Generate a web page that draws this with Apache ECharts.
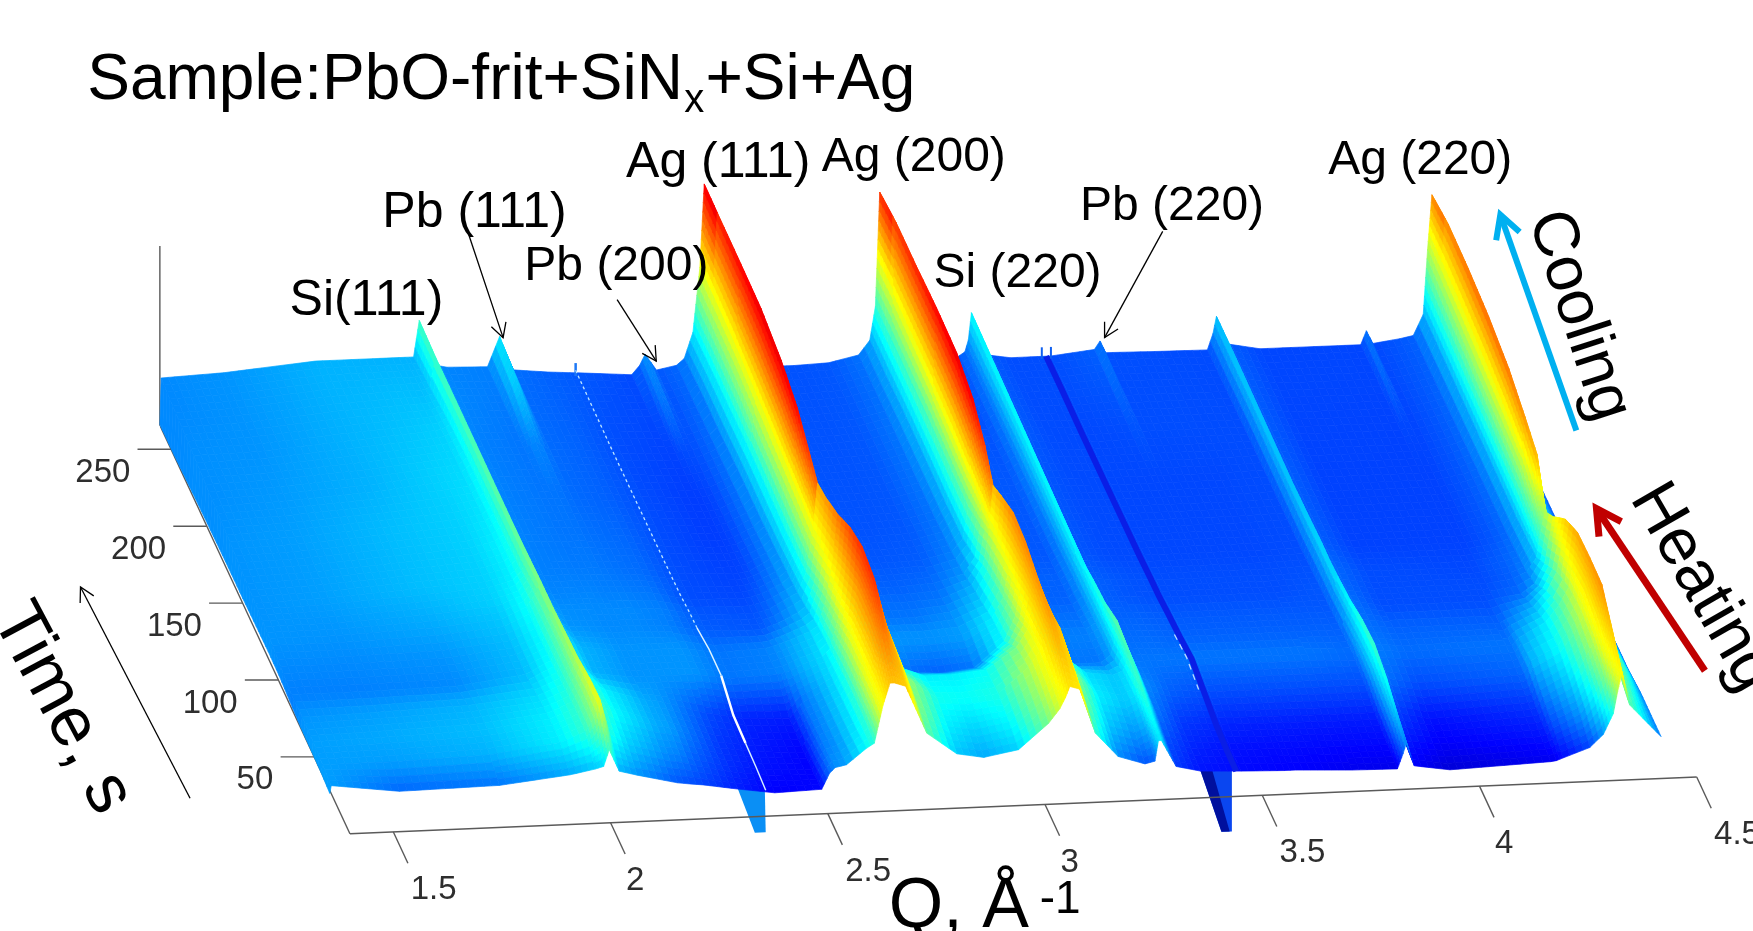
<!DOCTYPE html>
<html><head><meta charset="utf-8">
<style>html,body{margin:0;padding:0;background:#fff;overflow:hidden}#c{width:1753px;height:931px}</style>
<script src="https://cdn.jsdelivr.net/npm/echarts@6/dist/echarts.min.js"></script></head>
<body><div id="c"></div>
<script>
// ---------- data ----------
const qTicks = [1.5, 2, 2.5, 3, 3.5, 4, 4.5];
const timeTicks = [50, 100, 150, 200, 250];
const qGrid = [1.400,1.403,1.547,1.758,1.907,1.964,1.984,1.997,
 2.020,2.061,2.154,2.182,2.213,2.293,2.378,2.486,2.504,2.517,2.543,2.589,
 2.607,2.627,2.643,2.653,
 2.679,2.728,2.797,2.859,2.939,3.008,3.034,3.047,3.057,
 3.080,3.116,3.168,3.230,3.253,3.261,3.268,3.302,
 3.358,3.451,3.551,3.564,3.577,3.706,3.811,
 3.824,3.832,3.850,3.932,4.164,4.177,4.192,4.254,4.285,4.308,4.318,4.328,4.346,4.418];
const timeRows = [265,245,220,195,170,150,135,125,115,100,85,70,55,42,30];
const i265 = [.08,.26,.27,.30,.30,.30,.30,.44, .27,.255,.25,.365,.234,.22,.21,.196,.23,.273,.21,.225, .25,.35,.60,.92, .35,.22,.205,.205,.21,.235,.29,.42,.86, .30,.22,.21,.205,.23,.276,.38,.215, .2,.2,.218,.25,.204,.2,.198, .26,.326,.22,.194,.193,.246,.196,.21,.22,.30,.55,.76,.40,.2];
const i245 = [.09,.26,.27,.30,.31,.31,.32,.44, .27,.255,.245,.34,.23,.22,.205,.195,.21,.25,.205,.225, .26,.36,.61,.94, .35,.22,.205,.205,.21,.235,.29,.43,.90, .30,.22,.21,.205,.235,.28,.38,.215, .2,.2,.21,.24,.2,.2,.198, .26,.33,.22,.194,.193,.235,.195,.21,.22,.30,.55,.80,.40,.2];
const i220 = [.11,.265,.27,.30,.32,.33,.35,.45, .27,.25,.24,.26,.23,.22,.2,.19,.19,.2,.2,.23, .26,.37,.62,.97, .35,.22,.205,.205,.21,.24,.30,.44,.93, .31,.22,.21,.205,.24,.29,.38,.215, .2,.195,.2,.21,.2,.2,.2, .27,.33,.22,.192,.19,.2,.19,.21,.225,.30,.55,.82,.40,.2];
const i195 = [.13,.265,.275,.30,.33,.34,.37,.46, .27,.25,.24,.24,.23,.22,.2,.185,.185,.185,.195,.235, .27,.38,.62,1.0, .35,.22,.205,.205,.21,.24,.30,.45,.97, .32,.22,.21,.21,.245,.30,.38,.21, .2,.195,.195,.195,.195,.195,.2, .27,.33,.22,.19,.19,.19,.19,.21,.23,.30,.55,.83,.42,.2];
const i170 = [.15,.27,.28,.31,.33,.35,.38,.47, .27,.25,.24,.24,.235,.225,.2,.185,.185,.185,.195,.24, .27,.38,.62,1.0, .35,.22,.205,.205,.21,.24,.30,.45,1.0, .32,.22,.21,.21,.25,.30,.38,.21, .2,.195,.195,.195,.195,.195,.2, .27,.33,.22,.19,.19,.19,.19,.21,.23,.30,.55,.82,.42,.2];
const i150 = [.165,.27,.28,.31,.33,.36,.39,.48, .27,.25,.245,.245,.24,.23,.2,.19,.19,.19,.2,.25, .28,.38,.62,.97, .35,.22,.21,.21,.215,.25,.31,.46,.98, .34,.22,.21,.21,.25,.30,.38,.21, .2,.195,.195,.195,.195,.195,.2, .27,.34,.22,.19,.19,.19,.19,.21,.23,.30,.55,.78,.42,.2];
const i135 = [.18,.27,.28,.31,.33,.36,.40,.49, .28,.255,.255,.25,.25,.24,.2,.195,.195,.2,.215,.26, .29,.39,.62,.90, .35,.23,.22,.22,.23,.27,.35,.50,.90, .38,.24,.22,.22,.26,.31,.38,.22, .21,.2,.2,.2,.2,.2,.205, .28,.35,.23,.2,.195,.195,.2,.22,.24,.31,.50,.74,.42,.2];
const i125 = [.19,.27,.275,.3,.33,.37,.42,.5, .30,.265,.26,.26,.26,.25,.21,.205,.205,.21,.225,.28, .3,.4,.62,.85, .35,.24,.23,.23,.24,.3,.4,.55,.8, .4,.25,.22,.22,.26,.32,.38,.22, .21,.2,.2,.2,.2,.2,.21, .28,.35,.23,.2,.2,.2,.2,.22,.25,.32,.45,.55,.4,.2];
const i115 = [.2,.27,.27,.29,.32,.38,.44,.51, .32,.27,.26,.26,.26,.25,.215,.21,.21,.22,.24,.29, .32,.44,.66,.88, .42,.25,.24,.24,.26,.32,.43,.58,.85, .45,.26,.23,.23,.27,.32,.4,.22, .22,.21,.21,.21,.21,.21,.21, .28,.36,.24,.2,.2,.2,.21,.23,.28,.38,.5,.62,.42,.2];
const i100 = [.21,.26,.26,.27,.31,.37,.45,.52, .36,.3,.27,.27,.27,.27,.24,.25,.26,.27,.29,.33, .36,.5,.72,.95, .55,.28,.27,.27,.28,.36,.47,.62,.92, .5,.28,.25,.25,.28,.33,.42,.23, .23,.22,.22,.22,.22,.22,.22, .3,.38,.24,.22,.22,.22,.24,.3,.38,.48,.6,.76,.5,.2];
const i85 = [.21,.25,.25,.26,.31,.38,.46,.54, .38,.3,.27,.27,.27,.27,.24,.25,.26,.27,.3,.34, .38,.55,.8,1.05, .7,.3,.23,.22,.24,.38,.52,.68,.93, .55,.32,.24,.24,.28,.34,.47,.24, .24,.24,.24,.24,.24,.24,.23, .32,.42,.25,.23,.24,.24,.28,.36,.45,.55,.68,.85,.55,.22];
const i70 = [.21,.27,.28,.30,.34,.40,.47,.56, .42,.36,.29,.28,.26,.2,.16,.15,.2,.24,.27,.34, .4,.62,.88,1.12, .88,.42,.36,.36,.38,.5,.6,.74,.9, .72,.44,.34,.32,.34,.38,.45,.26, .22,.2,.2,.2,.2,.2,.2, .33,.44,.24,.2,.22,.23,.3,.38,.48,.58,.72,.88,.55,.22];
const i55 = [.22,.28,.29,.31,.36,.42,.5,.6, .44,.37,.29,.28,.25,.18,.15,.13,.19,.24,.27,.35, .42,.64,.9,1.12, .85,.52,.39,.38,.4,.55,.64,.75,.88, .78,.5,.36,.32,.35,.42,.42,.24, .18,.16,.155,.155,.155,.15,.15, .3,.4,.19,.14,.17,.18,.24,.33,.44,.55,.7,.9,.55,.24];
const i42 = [.23,.28,.28,.3,.36,.42,.5,.62, .4,.33,.26,.25,.22,.17,.14,.125,.21,.25,.27,.36, .42,.66,.88,.95, .82,.5,.36,.33,.37,.53,.62,.72,.8, .74,.47,.32,.27,.3,.38,.38,.2, .16,.14,.135,.135,.135,.13,.13, .27,.33,.15,.12,.14,.15,.19,.27,.37,.5,.64,.78,.5,.24];
const i30 = [.23,.28,.227,.24,.29,.32,.335,.44, .30,.27,.21,.2,.19,.154,.12,.13,.23,.265,.28,.38, .41,.65,.79,.79, .766,.46,.32,.29,.33,.49,.58,.65,.72, .70,.415,.26,.205,.22,.35,.35,.18, .144,.133,.125,.125,.125,.11,.105, .2,.27,.12,.085,.11,.115,.13,.19,.27,.40,.54,.66,.45,.24];
const intensity = [i265,i245,i220,i195,i170,i150,i135,i125,i115,i100,i85,i70,i55,i42,i30];
// artefacts of the measurement: thin streaks and the two tabs hanging below the first scan
const whiteStreakQ = 2.357;
const darkStreakQ = 3.44;
const tabLeftQ = [2.293,2.332,2.357,2.355];
const tabLeftI = [.154,-.13,-.13,.145];
const tabRightQ = [3.358,3.406,3.430,3.430];
const tabRightI = [.144,-.25,-.25,.14];
const tabDarkQ = [3.358,3.406,3.425,3.385];
const tabDarkI = [.144,-.25,-.25,.144];

// ---------- projection (view units = 1568 x 833 picture) ----------
const Q0 = 1.4, QPX = 388.6, T0 = 265, TF = 30;
function xBack(q){return 143+(q-Q0)*QPX;}
function surf(q,t,v){ // surface point in view units
  const s=(T0-t)/(T0-TF), xb=xBack(q);
  const x=xb+s*(152+18*Math.min(1,(xb-143)/200));
  const y=380-0.0422*(xb-143)+351*s-(232-92*s)*(v-0.08);
  return [x,y];
}
function floorPt(q,t){return [313+(q-Q0)*QPX-0.64*t, 746-16.4*(q-Q0)-1.376*t];}
function jet(v){
  v=Math.max(0,Math.min(0.9,v));
  const c=a=>Math.round(255*Math.max(0,Math.min(1,1.5-Math.abs(4*v-a))));
  return 'rgb('+c(3)+','+c(2)+','+c(1)+')';
}
// the colour scale saturates more slowly than the height in the hot scans
function shade(v,t){
  if(v<=0.6) return v;
  const k=t>=250?0.9:t>=125?0.75:0.45;
  return 0.6+(v-0.6)*k;
}
function sampleI(q,r){
  const row=intensity[r];
  for(let j=0;j<qGrid.length-1;j++){ if(q<=qGrid[j+1]){const f=(q-qGrid[j])/(qGrid[j+1]-qGrid[j]);return row[j]+f*(row[j+1]-row[j]);}}
  return row[row.length-1];
}

// ---------- mesh drawn back to front, right to left ----------
const pieces=[];
for(let r=0;r<timeRows.length-1;r++){
  for(let j=qGrid.length-2;j>=0;j--){
    const a=surf(qGrid[j],timeRows[r],intensity[r][j]), b=surf(qGrid[j+1],timeRows[r],intensity[r][j+1]),
          c=surf(qGrid[j],timeRows[r+1],intensity[r+1][j]), d=surf(qGrid[j+1],timeRows[r+1],intensity[r+1][j+1]);
    const du=Math.max(Math.abs(b[0]-a[0])/7,Math.abs(d[0]-c[0])/7,Math.abs(intensity[r][j+1]-intensity[r][j])/.04,Math.abs(intensity[r+1][j+1]-intensity[r+1][j])/.04);
    const dv=Math.max(Math.abs(c[1]-a[1])/7,Math.abs(d[1]-b[1])/7,Math.abs(intensity[r+1][j]-intensity[r][j])/.04,Math.abs(intensity[r+1][j+1]-intensity[r][j+1])/.04);
    const nu=j===0?1:Math.max(1,Math.ceil(du)), nv=Math.max(1,Math.ceil(dv));
    for(let v=0;v<nv;v++) for(let u=nu-1;u>=0;u--) pieces.push([r,j,u,v,nu,nv]);
  }
}
function renderPiece(params,api){
  const p=pieces[params.dataIndex], r=p[0], j=p[1], nu=p[4], nv=p[5];
  const q0=qGrid[j],q1=qGrid[j+1],t0=timeRows[r],t1=timeRows[r+1];
  const A=intensity[r][j],B=intensity[r][j+1],C=intensity[r+1][j],D=intensity[r+1][j+1];
  const val=(fu,fv)=>(A*(1-fu)+B*fu)*(1-fv)+(C*(1-fu)+D*fu)*fv;
  const pt=(fu,fv)=>api.coord(surf(q0+(q1-q0)*fu,t0+(t1-t0)*fv,val(fu,fv)));
  const u0=p[2]/nu,u1=(p[2]+1)/nu,v0=p[3]/nv,v1=(p[3]+1)/nv;
  const cv=j===0?(B*(1-v0)+D*v0):val((u0+u1)/2,(v0+v1)/2);
  const col=jet(shade(cv,t0+(t1-t0)*(v0+v1)/2));
  return {type:'polygon',shape:{points:[pt(u0,v0),pt(u1,v0),pt(u1,v1),pt(u0,v1)]},
    style:{fill:col,stroke:col,lineWidth:0.7},silent:true};
}
function poly(api,pts,style,closed){
  return {type:closed?'polygon':'polyline',shape:{points:pts.map(p=>api.coord(p))},style:style,silent:true};
}
function renderTabs(params,api){
  const g=[];
  const mk=(qs,is)=>qs.map((q,i)=>surf(q,TF,is[i]));
  g.push(poly(api,mk(tabLeftQ,tabLeftI),{fill:'#0a8ff5'},true));
  g.push(poly(api,mk(tabRightQ,tabRightI),{fill:'#0a46f0'},true));
  g.push(poly(api,mk(tabDarkQ,tabDarkI),{fill:'#00109e'},true));
  return {type:'group',children:g};
}
function renderAxes(params,api){
  const ax='#5a5a5a', w=1.4, g=[];
  const line=(a,b)=>g.push(poly(api,[a,b],{stroke:ax,lineWidth:w,fill:'none'},false));
  const label=(c,text)=>{const p=api.coord(c);g.push({type:'text',x:p[0],y:p[1],silent:true,style:{text:String(text),fill:'#2e2e2e',fontFamily:'"Liberation Sans"',fontSize:33,textAlign:'center',textVerticalAlign:'middle'}});};
  line(floorPt(Q0,0),floorPt(4.5,0));
  line(floorPt(Q0,0),floorPt(Q0,T0));
  line([143,381],[143,220]);
  qTicks.forEach(q=>{const a=floorPt(q,0),b=[a[0]+13,a[1]+28];line(a,b);
    label([b[0]+(String(q).length>1?23:9),b[1]+24],q);});
  timeTicks.forEach(t=>{const a=floorPt(Q0,t),b=[a[0]-30,a[1]];line(a,b);
    label([b[0]-(String(t).length>2?31:23),b[1]+21],t);});
  return {type:'group',children:g};
}
function renderStreaks(params,api){
  const g=[];
  const path=(q,from,to,add)=>{const pts=[];for(let r=from;r<=to;r++)pts.push(surf(q,timeRows[r],sampleI(q,r)+add));return pts;};
  g.push(poly(api,path(darkStreakQ,0,timeRows.length-1,0),{stroke:'#0a1ee6',lineWidth:6,fill:'none'},false));
  g.push(poly(api,[surf(3.430,T0,.19),surf(3.430,T0,.235)],{stroke:'#1060f0',lineWidth:2,fill:'none'},false));
  g.push(poly(api,[surf(3.451,T0,.19),surf(3.451,T0,.235)],{stroke:'#1060f0',lineWidth:2,fill:'none'},false));
  g.push(poly(api,[surf(whiteStreakQ,T0,.2),surf(whiteStreakQ,T0,.25)],{stroke:'#1e78f5',lineWidth:2.5,fill:'none'},false));
  g.push(poly(api,path(whiteStreakQ,0,8,0.01),{stroke:'#bfe6ff',lineWidth:1.3,lineDash:[3,3],fill:'none'},false));
  g.push(poly(api,path(whiteStreakQ,8,10,0.01),{stroke:'#dff3ff',lineWidth:1.4,fill:'none'},false));
  g.push(poly(api,path(whiteStreakQ,10,12,0.01),{stroke:'#ffffff',lineWidth:2.4,fill:'none'},false));
  g.push(poly(api,path(whiteStreakQ,12,14,0.01),{stroke:'#d8f0ff',lineWidth:1.4,fill:'none'},false));
  g.push(poly(api,path(darkStreakQ-0.012,9,11,0.01),{stroke:'#bcd8ff',lineWidth:1.3,lineDash:[6,5],fill:'none'},false));
  return {type:'group',children:g};
}

// ---------- annotations ----------
const K=1753/1568, FONT='"Liberation Sans"';
const peakLabels=[['Si(111)',259,282,50],['Pb (111)',342,203,50],['Pb (200)',469,250,48],['Ag (111)',560,158,50],['Ag (200)',735,153,48],['Si (220)',835,256,48],['Pb (220)',966,196,48],['Ag (220)',1188,155,48]];
const arrows=[[417,203,450,302,'#000',1.3,16],[552,268,587,323,'#000',1.3,16],[1040,207,988,302,'#000',1.3,16],[170,714,72,525,'#000',1.3,16],[1410,385,1342,192,'#00B0F0',6,26],[1525,600,1428,455,'#C00000',7,28]];
function txt(text,x,base,size,cw){
  return {type:'text',x:x*K,y:base*K,rotation:cw?-cw*Math.PI/180:0,silent:true,z:50,
    style:{text,fill:'#000',fontFamily:FONT,fontSize:size,textAlign:'left',textVerticalAlign:'bottom'}};
}
const graphics=[];
graphics.push(txt('Sample:PbO-frit+SiN',78,101,64));
graphics.push(txt('x',612,108,40));
graphics.push(txt('+Si+Ag',631,101,64));
peakLabels.forEach(l=>graphics.push(txt(l[0],l[1],l[2]+10,l[3])));
graphics.push(txt('Q, Å',795,843,70));
graphics.push(txt('-1',930,826,46));
graphics.push(txt('Cooling',1355,199,64,72));
graphics.push(txt('Heating',1446,452,66,60));
graphics.push(txt('Time, s',-20,559,70,62));
arrows.forEach(a=>{
  const [x0,y0,x1,y1,col,w,h]=a, ang=Math.atan2(y1-y0,x1-x0), sp=0.5;
  const X1=x1*K,Y1=y1*K;
  const st={stroke:col,lineWidth:w,fill:'none'};
  graphics.push({type:'polyline',silent:true,z:50,shape:{points:[[x0*K,y0*K],[X1,Y1]]},style:st});
  graphics.push({type:'polyline',silent:true,z:50,shape:{points:[
    [X1-h*Math.cos(ang-sp),Y1-h*Math.sin(ang-sp)],[X1,Y1],[X1-h*Math.cos(ang+sp),Y1-h*Math.sin(ang+sp)]]},style:st});
});

const chart=echarts.init(document.getElementById('c'),null,{renderer:'canvas'});
const one=[[0,0]];
chart.setOption({
  animation:false,backgroundColor:'#fff',
  grid:{left:0,right:0,top:0,bottom:0},
  xAxis:{type:'value',min:0,max:1568,show:false},
  yAxis:{type:'value',min:0,max:833,inverse:true,show:false},
  tooltip:{show:false},
  graphic:{elements:graphics},
  series:[
    {type:'custom',coordinateSystem:'cartesian2d',clip:false,silent:true,z:1,data:one,renderItem:renderTabs},
    {type:'custom',coordinateSystem:'cartesian2d',clip:false,silent:true,z:2,data:one,renderItem:renderAxes},
    {type:'custom',coordinateSystem:'cartesian2d',clip:false,silent:true,z:3,progressive:0,data:pieces.map(p=>[p[0],p[1]]),renderItem:renderPiece},
    {type:'custom',coordinateSystem:'cartesian2d',clip:false,silent:true,z:4,data:one,renderItem:renderStreaks}
  ]
});
</script></body></html>
